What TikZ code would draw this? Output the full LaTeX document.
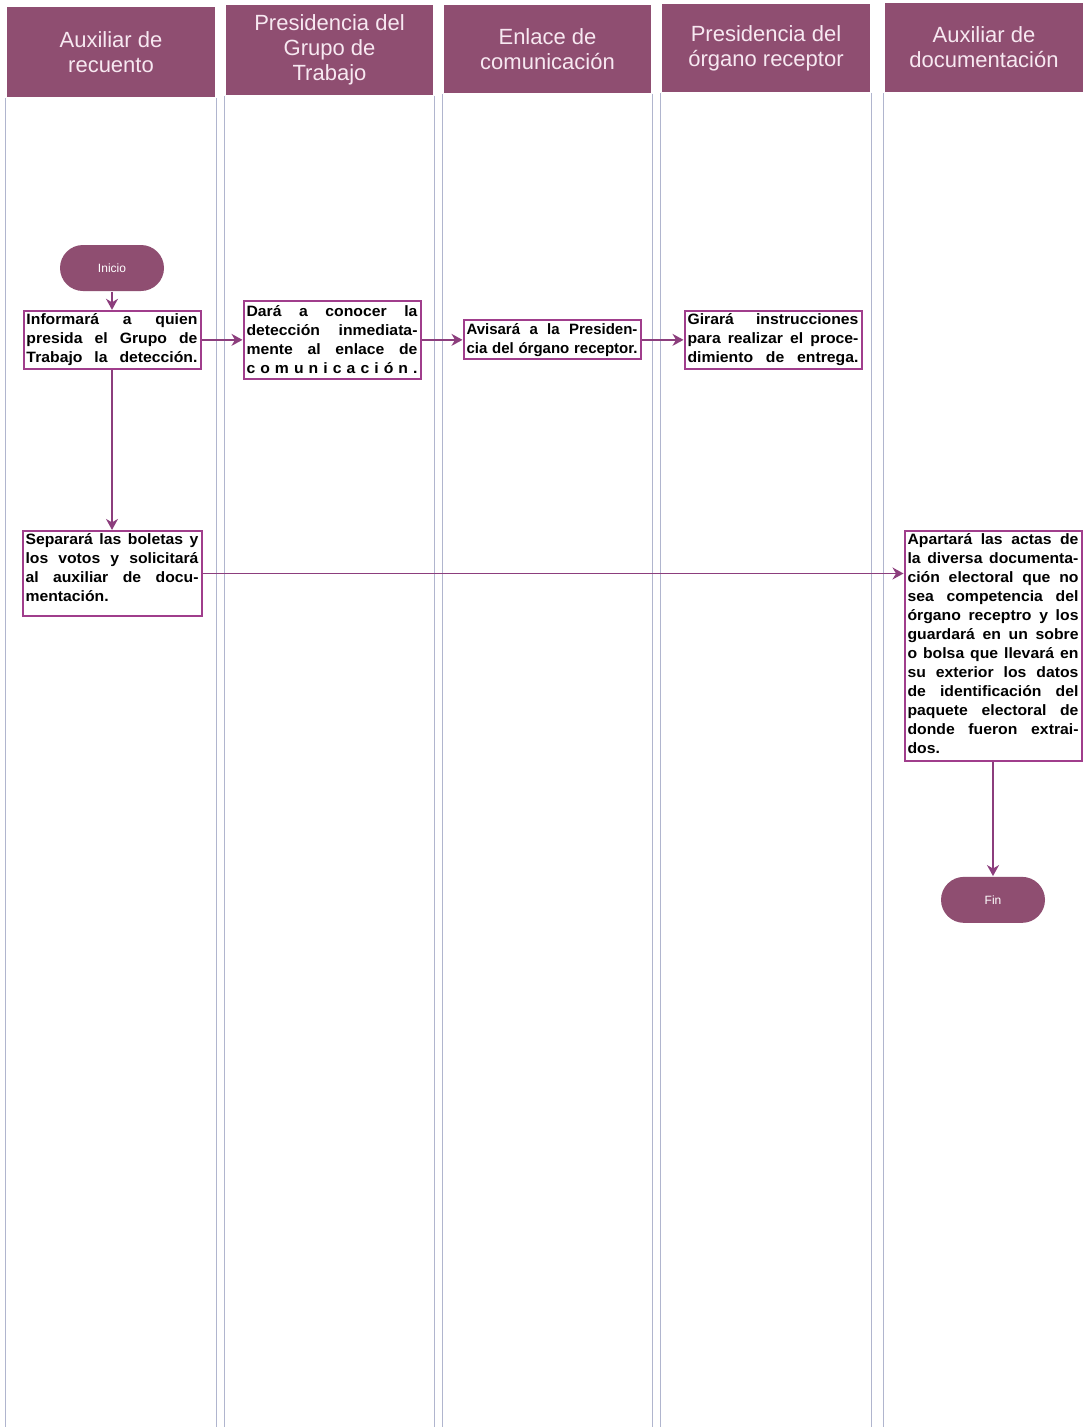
\documentclass[tikz,border=0pt]{standalone}
\usepackage{fontspec}
\setmainfont{Liberation Sans}
\newfontfamily\cajafont{Liberation Sans}[FakeStretch=1.05]
\usetikzlibrary{positioning}
\usetikzlibrary{arrows.meta}
\definecolor{morado}{RGB}{143,78,113}
\definecolor{borde}{RGB}{160,62,140}
\definecolor{flecha}{RGB}{140,62,125}
\definecolor{linea}{RGB}{176,181,206}
\definecolor{rotulo}{RGB}{247,232,241}
\tolerance=10000
\newcommand{\lleno}[1]{\makebox[\hsize][s]{#1}}

\begin{document}
\begin{tikzpicture}[x=1pt,y=-1pt,->,>={Stealth[length=11pt,width=12pt,inset=3.5pt]},flecha,line width=1.6pt]
\tikzstyle{enc}=[fill=morado,text=rotulo,align=center,inner sep=0pt,minimum height=90pt,font=\fontsize{22}{25}\selectfont]
\tikzstyle{act}=[draw=borde,line width=2pt,fill=white,text=black,text width=171pt,inner sep=3pt,align=justify,font=\cajafont\fontsize{15}{19}\selectfont\bfseries]
\tikzstyle{term}=[fill=morado,text=white,rounded corners=23pt,minimum width=104pt,minimum height=46pt,font=\fontsize{12}{14}\selectfont]
\tikzstyle{pista}=[-,draw=linea,line width=0.4pt,double=white,double distance=1pt]
\path[use as bounding box,fill=white] (0,0) rectangle (1088,1427);
\coordinate (fondo) at (0,1427);

% encabezados de carril
\node[enc,minimum width=208pt]	(hRec)	at (111,52)		{Auxiliar de\\recuento};
\node[enc,minimum width=207pt]	(hGru)	at (329.5,50)	{Presidencia del\\Grupo de\\Trabajo};
\node[enc,minimum width=207pt,minimum height=88pt]	(hEnl)	at (547.5,49)	{Enlace de\\comunicación};
\node[enc,minimum width=208pt,minimum height=88pt]	(hOrg)	at (766,48)		{Presidencia del\\órgano receptor};
\node[enc,minimum width=198pt,minimum height=89pt]	(hDoc)	at (984,47.5)	{Auxiliar de\\documentación};

% carriles
\draw[pista] (hRec.south west) -- (hRec.south west |- fondo);
\draw[pista] (hRec.south east) -- (hRec.south east |- fondo);
\draw[pista] (hGru.south west) -- (hGru.south west |- fondo);
\draw[pista] (hGru.south east) -- (hGru.south east |- fondo);
\draw[pista] (hEnl.south west) -- (hEnl.south west |- fondo);
\draw[pista] (hEnl.south east) -- (hEnl.south east |- fondo);
\draw[pista] (hOrg.south west) -- (hOrg.south west |- fondo);
\draw[pista] (hOrg.south east) -- (hOrg.south east |- fondo);
\draw[pista] (hDoc.south west) -- (hDoc.south west |- fondo);

% actividades
\node[term]	(ini)	at (112,268)	{Inicio};
\node[act]	(inf)	[below=18pt of ini]		{Informará a quien\linebreak presida el Grupo de\linebreak \lleno{Trabajo la detección.}};
\node[act,inner ysep=5pt]	(dar)	[right=41pt of inf]		{Dará a conocer la\linebreak detección inmediata-\linebreak mente al enlace de\linebreak \lleno{c o m u n i c a c i ó n .}};
\node[act,font=\normalfont\fontsize{15}{19}\selectfont\bfseries]	(avi)	[right=41pt of dar]		{Avisará a la Presiden-\linebreak \lleno{cia del órgano receptor.}};
\node[act]	(gir)	[right=42pt of avi]		{Girará instrucciones\linebreak para realizar el proce-\linebreak \lleno{dimiento de entrega.}};
\node[act,text width=173pt]	(sep)	[below=160pt of inf]	{Separará las boletas y\linebreak los votos y solicitará\linebreak al auxiliar de docu-\linebreak mentación.\par\vspace{11pt}};
\node[act]	(apa)	[right=701pt of sep.north east,anchor=north west]	{Apartará las actas de\linebreak la diversa documenta-\linebreak ción electoral que no\linebreak sea competencia del\linebreak órgano receptro y los\linebreak guardará en un sobre\linebreak o bolsa que llevará en\linebreak su exterior los datos\linebreak de identificación del\linebreak paquete electoral de\linebreak donde fueron extrai-\linebreak dos.\par\vspace{4pt}};
\node[term]	(fin)	[below=114pt of apa]	{Fin};

\path(ini)			edge	(inf)
	 (inf)			edge	(dar)
	 (dar)			edge	(avi)
	 (avi)			edge	(gir)
	 (inf.south)	edge	(inf.south |- sep.north)
	 (sep.east)		edge	(sep.east -| apa.west)
	 (apa)			edge	(fin);
\end{tikzpicture}
\end{document}
